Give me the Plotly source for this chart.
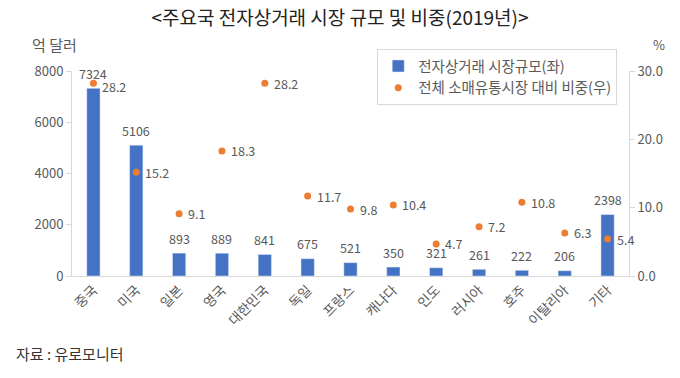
import plotly.graph_objects as go

categories = ["중국", "미국", "일본", "영국", "대한민국", "독일", "프랑스", "캐나다", "인도", "러시아", "호주", "이탈리아", "기타"]
market_size = [7324, 5106, 893, 889, 841, 675, 521, 350, 321, 261, 222, 206, 2398]
retail_share = [28.2, 15.2, 9.1, 18.3, 28.2, 11.7, 9.8, 10.4, 4.7, 7.2, 10.8, 6.3, 5.4]

FONT = "Noto Sans CJK KR"
GRAY = "#595959"

fig = go.Figure()
fig.add_trace(go.Bar(
    x=categories, y=market_size, name="전자상거래 시장규모(좌)",
    marker_color="#4472C4", width=0.31,
))
fig.add_trace(go.Scatter(
    x=categories, y=retail_share, name="전체 소매유통시장 대비 비중(우)",
    mode="markers", yaxis="y2",
    marker=dict(color="#ED7D31", size=7),
))

bar_labels = [
    dict(x=c, y=v, xref="x", yref="y", text=str(v), showarrow=False, yanchor="middle", yshift=15,
         font=dict(size=12.5, color=GRAY, family=FONT))
    for c, v in zip(categories, market_size)
]
dot_labels = [
    dict(x=c, y=v, xref="x", yref="y2", text=f"{v:.1f}", showarrow=False, xanchor="left", yanchor="middle",
         xshift=7, yshift=-3 if i == 0 else 0, font=dict(size=12.5, color=GRAY, family=FONT))
    for i, (c, v) in enumerate(zip(categories, retail_share))
]

fig.update_layout(
    width=680, height=378,
    margin=dict(l=72, r=51, t=71, b=102, autoexpand=False),
    paper_bgcolor="white", plot_bgcolor="white",
    font=dict(family=FONT, color=GRAY, size=12),
    showlegend=True,
    title=dict(text="<주요국 전자상거래 시장 규모 및 비중(2019년)>", x=0.5, xanchor="center",
               y=0.952, yanchor="middle", font=dict(size=19, color="#222222", family=FONT)),
    xaxis=dict(range=[-0.5, 12.5], showline=True, linecolor="#D9D9D9", ticks="", tickangle=-45, automargin=False,
               tickfont=dict(size=13.5, color=GRAY), showgrid=False),
    yaxis=dict(range=[0, 8000], tickvals=[0, 2000, 4000, 6000, 8000], showgrid=False, automargin=False,
               showline=True, linecolor="#D9D9D9", ticks="outside", ticklen=5, tickcolor="#D9D9D9",
               tickfont=dict(size=13, color=GRAY), zeroline=False),
    yaxis2=dict(range=[0, 30], tickvals=[0, 10, 20, 30], tickformat=".1f", overlaying="y", side="right",
                showgrid=False, showline=True, linecolor="#D9D9D9", ticks="outside", ticklen=5, automargin=False,
                tickcolor="#D9D9D9", tickfont=dict(size=13, color=GRAY), zeroline=False),
    legend=dict(x=0.548, y=1.107, xanchor="left", yanchor="top", bordercolor="#D9D9D9", borderwidth=1,
                bgcolor="white", font=dict(size=14.5, color=GRAY), tracegroupgap=0, itemwidth=30),
    annotations=bar_labels + dot_labels + [
        dict(text="억 달러", xref="paper", yref="paper", x=-0.075, y=1.13, xanchor="left", yanchor="middle",
             showarrow=False, font=dict(size=15, color=GRAY)),
        dict(text="%", xref="paper", yref="paper", x=1.04, y=1.13, xanchor="left", yanchor="middle",
             showarrow=False, font=dict(size=13, color=GRAY)),
        dict(text="자료 : 유로모니터", xref="paper", yref="paper", x=-0.105, y=-0.38, xanchor="left", yanchor="middle",
             showarrow=False, font=dict(size=15, color="#333333")),
    ],
)

fig.write_html("out.html", config={"displayModeBar": False},
               post_script="document.body.style.margin='0';")
